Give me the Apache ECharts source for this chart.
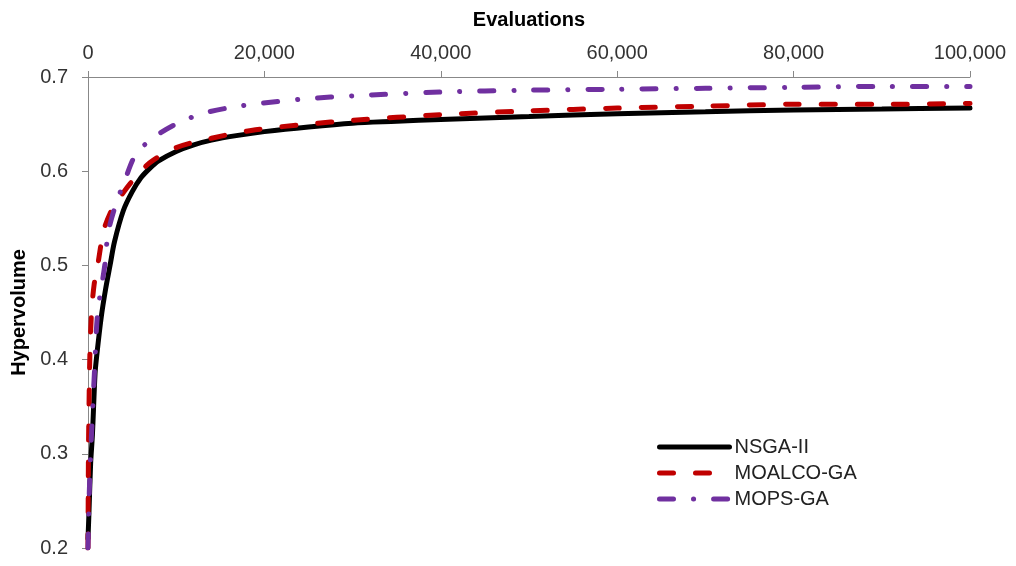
<!DOCTYPE html>
<html>
<head>
<meta charset="utf-8">
<script src="https://cdn.jsdelivr.net/npm/echarts@6/dist/echarts.min.js"></script>
<style>
html,body{margin:0;padding:0;background:#fff;}
#chart{width:1016px;height:566px;}
</style>
</head>
<body>
<div id="chart"></div>
<script>
// Series names
const seriesNames = ['NSGA-II', 'MOALCO-GA', 'MOPS-GA'];

// NSGA-II
const nsgaX = [0, 100, 300, 500, 800, 1000, 1500, 2000, 2500, 3000, 4000, 5000, 6000, 7000, 8000, 10000, 12000, 14000, 17000, 20000, 25000, 30000, 35000, 40000, 50000, 60000, 70000, 80000, 90000, 100000];
const nsgaY = [0.21, 0.235, 0.29, 0.32, 0.385, 0.405, 0.445, 0.475, 0.50, 0.525, 0.558, 0.578, 0.593, 0.603, 0.611, 0.621, 0.628, 0.633, 0.638, 0.642, 0.647, 0.651, 0.653, 0.655, 0.658, 0.661, 0.663, 0.665, 0.666, 0.667];

// MOALCO-GA
const moalcoX = [0, 50, 100, 200, 400, 700, 1100, 1400, 1700, 2500, 3400, 4800, 7000, 10000, 14000, 19000, 25000, 30000, 40000, 50000, 60000, 70000, 80000, 90000, 100000];
const moalcoY = [0.2, 0.30, 0.34, 0.40, 0.45, 0.48, 0.50, 0.518, 0.535, 0.555, 0.569, 0.587, 0.609, 0.625, 0.635, 0.644, 0.650, 0.654, 0.660, 0.664, 0.667, 0.669, 0.671, 0.671, 0.672];

// MOPS-GA
const mopsX = [0, 150, 300, 800, 1100, 1900, 2270, 3060, 4200, 5500, 7800, 10400, 13300, 16400, 19500, 25000, 30000, 40000, 50000, 60000, 70000, 80000, 90000, 100000];
const mopsY = [0.2, 0.26, 0.30, 0.40, 0.45, 0.50, 0.534, 0.562, 0.591, 0.619, 0.638, 0.652, 0.662, 0.668, 0.672, 0.677, 0.680, 0.684, 0.686, 0.687, 0.688, 0.689, 0.690, 0.690];

function pairs(xs, ys) { return xs.map((x, i) => [x, ys[i]]); }

const font = '"Liberation Sans", Arial, sans-serif';
const chart = echarts.init(document.getElementById('chart'), null, {renderer: 'canvas'});
chart.setOption({
  animation: false,
  backgroundColor: '#ffffff',
  grid: {left: 88, top: 77, right: 46, bottom: 18, containLabel: false, outerBoundsMode: 'none'},
  xAxis: {
    type: 'value', position: 'top', min: 0, max: 100000, interval: 20000,
    name: 'Evaluations', nameLocation: 'middle', nameGap: 47,
    nameTextStyle: {fontFamily: font, fontSize: 20, fontWeight: 'bold', color: '#000'},
    axisLine: {show: true, lineStyle: {color: '#888', width: 1}},
    axisTick: {show: true, inside: false, length: 6, lineStyle: {color: '#888'}},
    axisLabel: {fontFamily: font, fontSize: 20, color: '#333', margin: 14,
      formatter: v => v.toLocaleString('en-US')},
    splitLine: {show: false}
  },
  yAxis: {
    type: 'value', min: 0.2, max: 0.7, interval: 0.1,
    name: 'Hypervolume', nameLocation: 'middle', nameGap: 56,
    nameTextStyle: {fontFamily: font, fontSize: 20, fontWeight: 'bold', color: '#000'},
    axisLine: {show: true, lineStyle: {color: '#888', width: 1}},
    axisTick: {show: true, inside: false, length: 6, lineStyle: {color: '#888'}},
    axisLabel: {fontFamily: font, fontSize: 20, color: '#333', margin: 20,
      formatter: v => v.toFixed(1)},
    splitLine: {show: false}
  },
  legend: {
    orient: 'vertical', left: 657, top: 437, padding: 0,
    itemWidth: 70, itemHeight: 14, itemGap: 6,
    itemStyle: {opacity: 0},
    lineStyle: {width: 5, cap: 'round'},
    textStyle: {fontFamily: font, fontSize: 20, color: '#222'},
    data: seriesNames
  },
  series: [
    {name: seriesNames[0], type: 'line', data: pairs(nsgaX, nsgaY), showSymbol: false, symbol: 'none', smooth: 0.3,
      lineStyle: {color: '#000000', width: 5, type: 'solid', cap: 'round'}, itemStyle: {color: '#000000'}, z: 3},
    {name: seriesNames[1], type: 'line', data: pairs(moalcoX, moalcoY), showSymbol: false, symbol: 'none', smooth: 0.3,
      lineStyle: {color: '#c00000', width: 5, type: [14, 22], cap: 'round'}, itemStyle: {color: '#c00000'}, z: 4},
    {name: seriesNames[2], type: 'line', data: pairs(mopsX, mopsY), showSymbol: false, symbol: 'none', smooth: 0.3,
      lineStyle: {color: '#7030a0', width: 5, type: [14, 20, 0.1, 20], cap: 'round'}, itemStyle: {color: '#7030a0'}, z: 5}
  ]
});
</script>
</body>
</html>
